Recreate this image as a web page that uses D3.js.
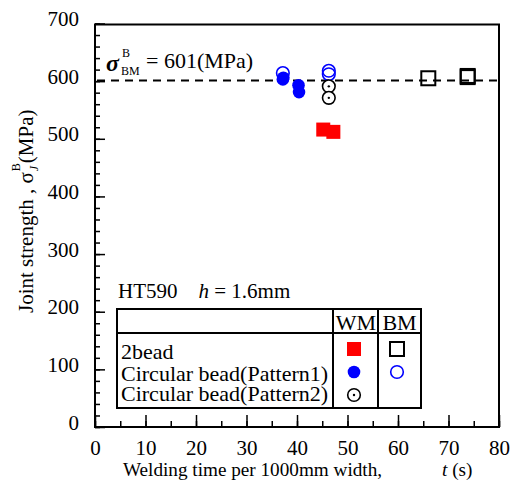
<!DOCTYPE html>
<html>
<head>
<meta charset="utf-8">
<script src="https://cdn.jsdelivr.net/npm/d3@7/dist/d3.min.js"></script>
<style>
  html, body { margin: 0; padding: 0; background: #fff; }
  svg text { font-family: "Liberation Serif", "Times New Roman", serif; fill: #000; }
</style>
</head>
<body>
<svg id="chart" width="513" height="488"></svg>
<script>
// ---- data ----
const xTicks = [0, 10, 20, 30, 40, 50, 60, 70, 80];
const yTicks = [0, 100, 200, 300, 400, 500, 600, 700];
const sigmaBM = 601;
// [t (s), joint strength (MPa)]
const wm2bead = [[45.2, 516], [47.2, 512]];
const bm2bead = [[66.0, 605], [73.8, 609], [73.8, 607]];
const wmPattern1 = [[37.2, 603], [37.3, 606], [40.3, 593], [40.4, 581]];
const bmPattern1 = [[37.2, 614], [46.3, 618], [46.3, 612]];
const wmPattern2 = [[46.3, 591], [46.3, 571]];
const legendRows = ["2bead", "Circular bead(Pattern1)", "Circular bead(Pattern2)"];

const svg = d3.select("#chart");
const x = d3.scaleLinear().domain([0, 80]).range([95, 499]);
const y = d3.scaleLinear().domain([0, 700]).range([427, 23.5]);

// frame
svg.append("rect").attr("x", x(0)).attr("y", y(700) + 1)
  .attr("width", x(80) - x(0)).attr("height", y(0) - y(700) - 1)
  .attr("fill", "none").attr("stroke", "#000").attr("stroke-width", 2);

// y axis (inward ticks)
const yMinor = d3.range(0, 701, 20);
svg.append("g").attr("transform", `translate(${x(0)},0)`)
  .call(d3.axisLeft(y).tickValues(yMinor).tickFormat("").tickSize(-5).tickSizeOuter(0))
  .call(g => g.select(".domain").remove())
  .call(g => g.selectAll("line").attr("stroke-width", 1.5));
svg.append("g").attr("transform", `translate(${x(0)},0)`)
  .call(d3.axisLeft(y).tickValues(yTicks).tickSize(-10).tickSizeOuter(0).tickPadding(16))
  .call(g => g.select(".domain").remove())
  .call(g => g.selectAll("line").attr("stroke-width", 1.5))
  .call(g => g.selectAll("text").attr("font-size", 21).attr("dy", "0.1em")
      .style("font-family", "Liberation Serif"));

// x axis (inward ticks)
const xMinor = d3.range(0, 81, 5);
svg.append("g").attr("transform", `translate(0,${y(0)})`)
  .call(d3.axisBottom(x).tickValues(xMinor).tickFormat("").tickSize(-6).tickSizeOuter(0))
  .call(g => g.select(".domain").remove())
  .call(g => g.selectAll("line").attr("stroke-width", 1.5));
svg.append("g").attr("transform", `translate(0,${y(0)})`)
  .call(d3.axisBottom(x).tickValues(xTicks).tickSize(-12).tickSizeOuter(0).tickPadding(13))
  .call(g => g.select(".domain").remove())
  .call(g => g.selectAll("line").attr("stroke-width", 1.5))
  .call(g => g.selectAll("text").attr("font-size", 21)
      .style("font-family", "Liberation Serif"));

// axis titles
svg.append("text").attr("x", 123).attr("y", 476).attr("font-size", 19.2)
  .text("Welding time per 1000mm width,");
const xt2 = svg.append("text").attr("x", 442).attr("y", 476).attr("font-size", 19.2);
xt2.append("tspan").attr("font-style", "italic").text("t");
xt2.append("tspan").text(" (s)");

const yg = svg.append("g").attr("transform", "translate(33,0) rotate(-90)");
const yt1 = yg.append("text").attr("x", -313).attr("y", 0).attr("font-size", 21)
  .text("Joint strength , \u03c3");
const L1 = yt1.node().getComputedTextLength();
yg.append("text").attr("x", -313 + L1 + 1).attr("y", -13).attr("font-size", 12).text("B");
yg.append("text").attr("x", -313 + L1 + 1).attr("y", 5).attr("font-size", 12)
  .attr("font-style", "italic").text("J");
yg.append("text").attr("x", -313 + L1 + 9).attr("y", 0).attr("font-size", 21).text("(MPa)");

// base metal strength line
svg.append("line").attr("x1", x(0) + 2).attr("x2", x(80))
  .attr("y1", y(sigmaBM)).attr("y2", y(sigmaBM))
  .attr("stroke", "#000").attr("stroke-width", 2).attr("stroke-dasharray", "8,6");

const ann = svg.append("g");
ann.append("text").attr("x", 106).attr("y", 71).attr("font-size", 24).attr("font-style", "italic")
  .attr("font-weight", "bold").text("\u03c3");
ann.append("text").attr("x", 122).attr("y", 57).attr("font-size", 12).text("B");
ann.append("text").attr("x", 121).attr("y", 75).attr("font-size", 12).text("BM");
ann.append("text").attr("x", 146).attr("y", 68).attr("font-size", 22).text("= " + sigmaBM + "(MPa)");

// marker helpers
const R = 6.3, S = 14;
function openSquare(g, cx, cy) {
  g.append("rect").attr("x", cx - S / 2).attr("y", cy - S / 2).attr("width", S).attr("height", S)
    .attr("fill", "none").attr("stroke", "#000").attr("stroke-width", 2);
}
function filledSquare(g, cx, cy) {
  g.append("rect").attr("x", cx - S / 2).attr("y", cy - S / 2).attr("width", S).attr("height", S)
    .attr("fill", "#ff0000");
}
function filledCircle(g, cx, cy) {
  g.append("circle").attr("cx", cx).attr("cy", cy).attr("r", R).attr("fill", "#0000ff");
}
function openCircle(g, cx, cy) {
  g.append("circle").attr("cx", cx).attr("cy", cy).attr("r", R)
    .attr("fill", "none").attr("stroke", "#0000ff").attr("stroke-width", 1.6);
}
function dotCircle(g, cx, cy) {
  g.append("circle").attr("cx", cx).attr("cy", cy).attr("r", R)
    .attr("fill", "#fff").attr("stroke", "#000").attr("stroke-width", 1.6);
  g.append("circle").attr("cx", cx).attr("cy", cy).attr("r", 1.2).attr("fill", "#000");
}

const pts = svg.append("g");
bmPattern1.forEach(d => openCircle(pts, x(d[0]), y(d[1])));
wmPattern1.forEach(d => filledCircle(pts, x(d[0]), y(d[1])));
wmPattern2.forEach(d => dotCircle(pts, x(d[0]), y(d[1])));
wm2bead.forEach(d => filledSquare(pts, x(d[0]), y(d[1])));
bm2bead.forEach(d => openSquare(pts, x(d[0]), y(d[1])));

// legend
const lg = svg.append("g");
const lt = lg.append("text").attr("x", 118).attr("y", 298).attr("font-size", 21);
lt.append("tspan").text("HT590\u00a0\u00a0\u00a0\u00a0");
lt.append("tspan").attr("font-style", "italic").text("h");
lt.append("tspan").text(" = 1.6mm");

const bx0 = 117, bx1 = 421, by0 = 309, by1 = 408, hy = 333, c1 = 333, c2 = 378;
lg.append("rect").attr("x", bx0).attr("y", by0).attr("width", bx1 - bx0).attr("height", by1 - by0)
  .attr("fill", "#fff").attr("stroke", "#000").attr("stroke-width", 2);
lg.append("line").attr("x1", bx0).attr("x2", bx1).attr("y1", hy).attr("y2", hy)
  .attr("stroke", "#000").attr("stroke-width", 2);
[c1, c2].forEach(cx => lg.append("line").attr("x1", cx).attr("x2", cx).attr("y1", by0).attr("y2", by1)
  .attr("stroke", "#000").attr("stroke-width", 2));
lg.append("text").attr("x", (c1 + c2) / 2 + 0.5).attr("y", 330).attr("text-anchor", "middle")
  .attr("font-size", 22).text("WM");
lg.append("text").attr("x", (c2 + bx1) / 2).attr("y", 330).attr("text-anchor", "middle")
  .attr("font-size", 22).text("BM");
const rowY = [359, 380.5, 401];
legendRows.forEach((t, i) => lg.append("text").attr("x", 121).attr("y", rowY[i])
  .attr("font-size", 22).text(t));
filledSquare(lg, 354, 349);
openSquare(lg, 397, 349);
filledCircle(lg, 354, 372);
openCircle(lg, 397, 372);
dotCircle(lg, 354, 395);
</script>
</body>
</html>
